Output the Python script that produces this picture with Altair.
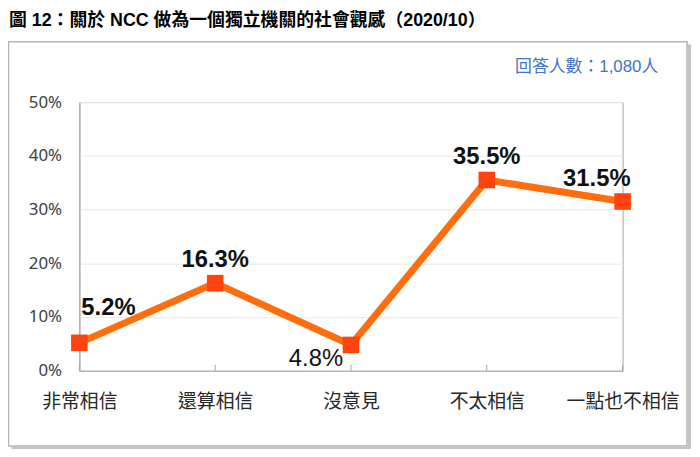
import altair as alt
import pandas as pd

# 資料
categories = ["非常相信", "還算相信", "沒意見", "不太相信", "一點也不相信"]
values = [5.2, 16.3, 4.8, 35.5, 31.5]
y_ticks = [0, 10, 20, 30, 40, 50]

title_text = "圖 12：關於 NCC 做為一個獨立機關的社會觀感（2020/10）"
note_text = "回答人數：1,080人"

source = pd.DataFrame({"category": categories, "value": values})
one = pd.DataFrame({"k": [0]})

LATIN = "Liberation Sans"
CJK = "Liberation Sans, Noto Sans CJK TC"
BORDER = "#a6a6a6"

# 共通
base = alt.Chart(source).encode(
    x=alt.X("category:N", sort=categories,
            scale=alt.Scale(type="point", padding=0),
            axis=alt.Axis(title=None, labelAngle=0, ticks=False, grid=False,
                          labelFlush=False, labelPadding=22, labelFontSize=19,
                          labelFont="Noto Sans CJK TC", labelColor="#262626",
                          domainColor=BORDER)),
    y=alt.Y("value:Q", scale=alt.Scale(domain=[0, 50]),
            axis=alt.Axis(title=None, values=y_ticks,
                          labelExpr="datum.value + '%'", ticks=False,
                          grid=True, gridColor="#e8e8e8", labelPadding=18,
                          labelFontSize=17, labelFont="Noto Sans",
                          labelColor="#404040", domainColor=BORDER)),
)

# 外框 + 陰影
frame = alt.Chart(one).mark_rect(fillOpacity=0, stroke="#b4b4b4", strokeWidth=1.5).encode(
    x=alt.value(-71.5), x2=alt.value(613), y=alt.value(-61), y2=alt.value(347))
shadow_r = alt.Chart(one).mark_rect(color="#c4c4c4").encode(
    x=alt.value(613.8), x2=alt.value(617), y=alt.value(-58), y2=alt.value(350))
shadow_b = alt.Chart(one).mark_rect(color="#c4c4c4").encode(
    x=alt.value(-68.5), x2=alt.value(617), y=alt.value(347.8), y2=alt.value(350))

# 標題、樣本數
title = alt.Chart(one).mark_text(
    text=title_text, align="left", baseline="alphabetic", font=CJK,
    fontSize=18, fontWeight="bold", color="#000000").encode(
    x=alt.value(-71), y=alt.value(-77))
note = alt.Chart(one).mark_text(
    text=note_text, align="right", baseline="alphabetic", font=CJK,
    fontSize=17, color="#4472C4").encode(
    x=alt.value(584), y=alt.value(-30))

# 刻度
ticks = base.mark_rule(color=BORDER).encode(y=alt.value(271), y2=alt.value(265))

# 線、點
line = base.mark_line(color="#FF6E0E", strokeWidth=7)
points = base.mark_point(shape="square", filled=True, size=280, color="#FF430F", opacity=1)

# 數值標籤
lab = base.transform_calculate(label="format(datum.value, '.1f') + '%'")
bold = dict(font=LATIN, fontSize=24, fontWeight="bold", color="#111111", baseline="alphabetic")
t_first = lab.mark_text(align="left", dx=2, dy=-28, **bold).encode(
    text="label:N").transform_filter(alt.datum.category == categories[0])
t_mid = lab.mark_text(align="center", dy=-16.5, **bold).encode(
    text="label:N").transform_filter(
    (alt.datum.category == categories[1]) | (alt.datum.category == categories[3]))
t_last = lab.mark_text(align="center", dx=-26, dy=-16, **bold).encode(
    text="label:N").transform_filter(alt.datum.category == categories[4])
t_low = lab.mark_text(align="right", dx=-8, dy=21, font=LATIN, fontSize=24,
                      color="#111111", baseline="alphabetic").encode(
    text="label:N").transform_filter(alt.datum.category == categories[2])

chart = alt.layer(
    shadow_r, shadow_b, frame, title, note, ticks, line, points,
    t_first, t_mid, t_last, t_low
).properties(
    width=548, height=271,
    autosize=alt.AutoSizeParams(type="none"),
    padding={"left": 72, "top": 93, "right": 70, "bottom": 77},
    background="white",
).configure_view(stroke=BORDER, strokeWidth=1)

chart.save("out.html", embed_options={"renderer": "svg", "actions": False})
